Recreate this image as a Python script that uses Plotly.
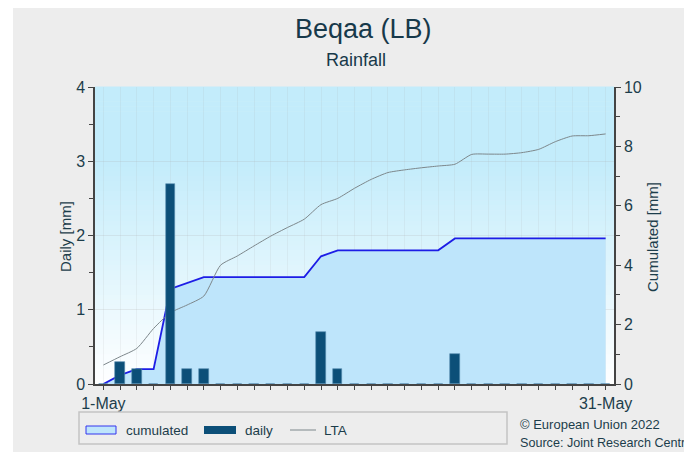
import plotly.graph_objects as go
import pandas as pd

# ---- data -------------------------------------------------------------
days = pd.date_range("2022-05-01", periods=31, freq="D")
daily_mm = [0.0, 0.3, 0.2, 0.0, 2.7, 0.2, 0.2, 0.0, 0.0, 0.0,
            0.0, 0.0, 0.0, 0.7, 0.2, 0.0, 0.0, 0.0, 0.0, 0.0,
            0.0, 0.4, 0.0, 0.0, 0.0, 0.0, 0.0, 0.0, 0.0, 0.0, 0.0]
lta_cum_mm = [0.64, 0.92, 1.20, 1.87, 2.40, 2.66, 2.96, 4.00, 4.31, 4.65,
              4.98, 5.27, 5.55, 6.04, 6.25, 6.59, 6.89, 7.12, 7.21, 7.28,
              7.34, 7.40, 7.73, 7.74, 7.74, 7.79, 7.90, 8.16, 8.35, 8.36, 8.42]
x_tick_labels = ["1-May"] + [""] * 29 + ["31-May"]

cum_mm = []
running = 0.0
for v in daily_mm:
    running += v
    cum_mm.append(round(running, 2))

# ---- styling ------------------------------------------------------------
W, H = 684, 452
PL, PR, PT, PB = 95, 614, 87, 384          # plot area in page pixels
TXT = "#1c3d4b"
FONT = "Liberation Sans, Arial, sans-serif"


def px_x(x):
    return (x - PL) / (PR - PL)


def px_y(y):
    return (PB - y) / (PB - PT)


fig = go.Figure()

fig.add_trace(go.Scatter(
    x=days, y=cum_mm, name="cumulated", yaxis="y",
    mode="lines", fill="tozeroy", fillcolor="#bee5fb",
    line=dict(color="#1d1de6", width=1.8), showlegend=False,
))
fig.add_trace(go.Scatter(
    x=days, y=lta_cum_mm, name="LTA", yaxis="y",
    mode="lines", line=dict(color="#7d878b", width=1, shape="spline", smoothing=0.6),
    showlegend=False,
))
fig.add_trace(go.Bar(
    x=days, y=daily_mm, name="daily", yaxis="y2",
    width=0.56 * 86400000, marker=dict(color="#0c4f78", line=dict(color="#5a8db0", width=0.6)),
    showlegend=False,
))

shapes = []
# page background: white strips on top and left, grey elsewhere
shapes.append(dict(type="rect", xref="paper", yref="paper", layer="below",
                   x0=px_x(0), x1=px_x(W), y0=px_y(0), y1=px_y(8),
                   fillcolor="white", line=dict(width=0)))
shapes.append(dict(type="rect", xref="paper", yref="paper", layer="below",
                   x0=px_x(0), x1=px_x(13), y0=px_y(0), y1=px_y(H),
                   fillcolor="white", line=dict(width=0)))

# vertical colour gradient inside the plotting area
top_rgb = (195, 236, 251)
n_bands = 60
for i in range(n_bands):
    f0 = i / n_bands
    f1 = (i + 1) / n_bands
    t = min(1.0, ((f0 + f1) / 2) / 0.75)
    r = round(255 + (top_rgb[0] - 255) * t)
    g = round(255 + (top_rgb[1] - 255) * t)
    b = round(255 + (top_rgb[2] - 255) * t)
    shapes.append(dict(type="rect", xref="paper", yref="paper", layer="below",
                       x0=0, x1=1, y0=f0, y1=f1 + 0.002,
                       fillcolor=f"rgb({r},{g},{b})", line=dict(width=0)))

# legend frame and entries
shapes.append(dict(type="rect", xref="paper", yref="paper",
                   x0=px_x(79), x1=px_x(507), y0=px_y(444), y1=px_y(412),
                   fillcolor="rgba(0,0,0,0)", line=dict(color="#c4c4c4", width=1.5)))
shapes.append(dict(type="rect", xref="paper", yref="paper",
                   x0=px_x(86), x1=px_x(116), y0=px_y(434), y1=px_y(426),
                   fillcolor="#bee5fb", line=dict(color="#3434ee", width=1)))
shapes.append(dict(type="rect", xref="paper", yref="paper",
                   x0=px_x(204), x1=px_x(236), y0=px_y(434), y1=px_y(426),
                   fillcolor="#0c4f78", line=dict(width=0)))
shapes.append(dict(type="line", xref="paper", yref="paper",
                   x0=px_x(290), x1=px_x(316), y0=px_y(430), y1=px_y(430),
                   line=dict(color="#7d878b", width=1)))

annotations = []


def label(text, x, y, size, xanchor="left", color=TXT, angle=0):
    annotations.append(dict(text=text, xref="paper", yref="paper",
                            x=px_x(x), y=px_y(y), xanchor=xanchor, yanchor="middle",
                            textangle=angle, showarrow=False,
                            font=dict(family=FONT, size=size, color=color)))


label("cumulated", 124, 430, 13.5)
label("daily", 243, 430, 13.5)
label("LTA", 322, 430, 13.5)
label("© European Union 2022", 518, 424, 13)
label("Source: Joint Research Centre", 518, 443, 12.6)
label("Beqaa (LB)", 363, 29, 27, xanchor="center", color="#17394a")
label("Rainfall", 356, 60, 18, xanchor="center", color="#17394a")
label("Daily [mm]", 66, 237, 15, xanchor="center", angle=-90)
label("Cumulated [mm]", 653, 237, 15, xanchor="center", angle=-90)

grid_col = "rgba(170,170,170,0.13)"

fig.update_layout(
    width=W, height=H,
    margin=dict(l=PL, r=W - PR, t=PT, b=H - PB, pad=0),
    paper_bgcolor="#ededed",
    plot_bgcolor="rgba(0,0,0,0)",
    font=dict(family=FONT, color=TXT, size=16),
    showlegend=False,
    bargap=0,
    shapes=shapes,
    annotations=annotations,
    xaxis=dict(
        range=[days[0] - pd.Timedelta(hours=12), days[-1] + pd.Timedelta(hours=12)],
        tickvals=list(days), ticktext=x_tick_labels,
        ticks="outside", ticklen=4, tickcolor="#444", tickwidth=1,
        showline=True, linecolor="#444", linewidth=1.5,
        showgrid=True, gridcolor=grid_col, gridwidth=1,
        tickfont=dict(size=16, color=TXT), zeroline=False,
    ),
    yaxis=dict(
        side="right", range=[0, 10], tick0=0, dtick=2,
        ticks="outside", ticklen=5, tickcolor="#444",
        minor=dict(dtick=1, ticks="outside", ticklen=4, tickcolor="#444", showgrid=False),
        showline=True, linecolor="#444", linewidth=1.5,
        showgrid=False, zeroline=False,
        tickfont=dict(size=16, color=TXT),
    ),
    yaxis2=dict(
        side="left", overlaying="y", range=[0, 4], tick0=0, dtick=1,
        ticks="outside", ticklen=5, tickcolor="#444",
        minor=dict(dtick=0.5, ticks="outside", ticklen=4, tickcolor="#444", showgrid=False),
        showline=True, linecolor="#444", linewidth=1.5,
        showgrid=True, gridcolor="rgba(170,170,170,0.2)", zeroline=False,
        tickfont=dict(size=16, color=TXT),
    ),
)

fig.write_html("out.html")
